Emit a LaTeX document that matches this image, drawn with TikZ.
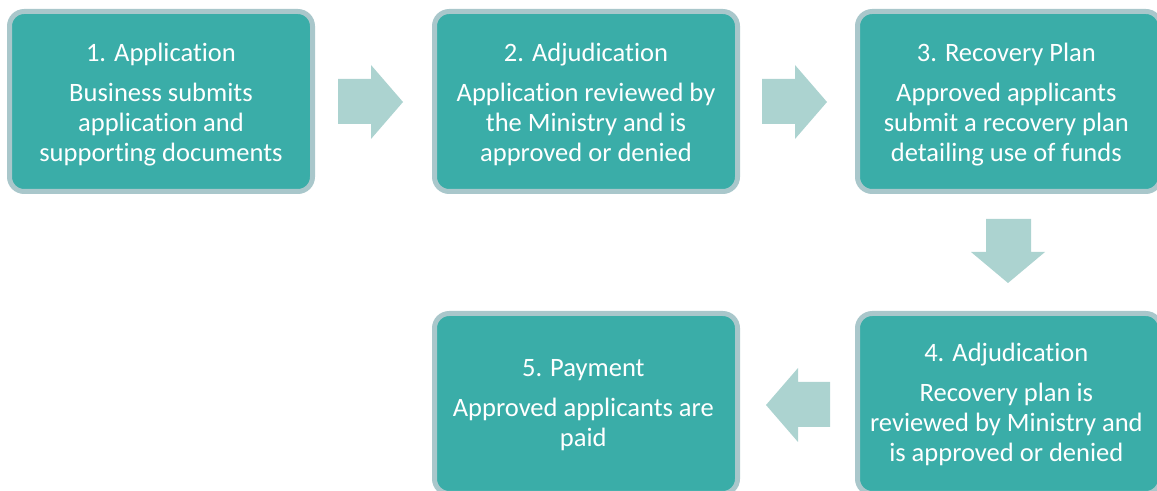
\documentclass[tikz,border=0pt]{standalone}
\usepackage{fontspec}
\setmainfont[Ligatures={NoCommon}]{Carlito}
\definecolor{boxfill}{HTML}{3AADA8}
\definecolor{boxline}{HTML}{A9C7CB}
\definecolor{arrfill}{HTML}{ACD3D0}
\tikzset{
  stepbox/.style={draw=boxline, fill=boxfill, line width=3.75pt, rounded corners=11pt,
    minimum width=227.25pt, minimum height=135pt, inner sep=0pt},
  steptext/.style={inner sep=0pt, text=white, align=center,
    font=\fontsize{19.9pt}{22.5pt}\selectfont},
  blockarrow/.style={fill=arrfill}
}
\newcommand{\ttl}[1]{#1\\[7.5pt]}
\begin{document}
\begin{tikzpicture}[x=0.75pt,y=-0.75pt]
\useasboundingbox (0,0) rectangle (1157,491);
\clip (0,0) rectangle (1157,491);
\node[stepbox] (b1) at (161,101.5) {};
\node[stepbox] (b2) at (586,101.5) {};
\node[stepbox] (b3) at (1009,101.5) {};
\node[stepbox] (b4) at (1009,403.5) {};
\node[stepbox] (b5) at (586,403.5) {};
\node[steptext] (t1) at ([yshift=-2pt]b1.center) {\ttl{1. Application}Business submits\\application and\\supporting documents};
\node[steptext] (t2) at ([yshift=-2pt]b2.center) {\ttl{2. Adjudication}Application reviewed by\\the Ministry and is\\approved or denied};
\node[steptext] (t3) at ([xshift=-2pt,yshift=-2pt]b3.center) {\ttl{3. Recovery Plan}Approved applicants\\submit a recovery plan\\detailing use of funds};
\node[steptext] (t4) at ([xshift=-2pt,yshift=-1pt]b4.center) {\ttl{4. Adjudication}Recovery plan is\\reviewed by Ministry and\\is approved or denied};
\node[steptext] (t5) at ([xshift=-2pt,yshift=-1pt]b5.center) {\ttl{5. Payment}Approved applicants are\\paid};
% block arrows
\fill[blockarrow] (338,79) -- (371,79) -- (371,65) -- (403,102) -- (371,139) -- (371,124) -- (338,124) -- cycle;
\fill[blockarrow] (762,79) -- (795,79) -- (795,65) -- (827,102) -- (795,139) -- (795,124) -- (762,124) -- cycle;
\fill[blockarrow] (986,219) -- (1031,219) -- (1031,252) -- (1045,252) -- (1008,283) -- (971,252) -- (986,252) -- cycle;
\fill[blockarrow] (830,382) -- (798,382) -- (798,368) -- (766,405) -- (798,442) -- (798,427) -- (830,427) -- cycle;
\end{tikzpicture}
\end{document}
